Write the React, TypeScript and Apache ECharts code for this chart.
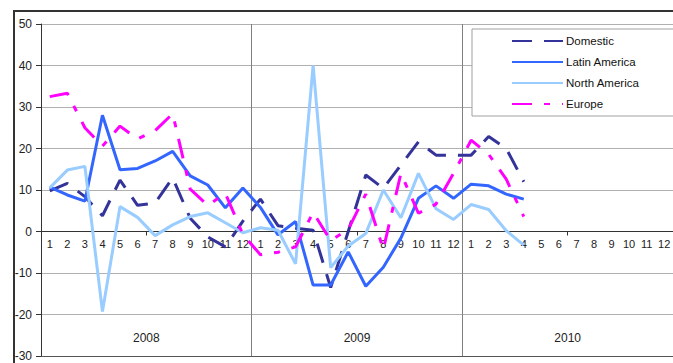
import React, { useEffect, useRef } from "react";
import * as echarts from "echarts";

const months = ["1","2","3","4","5","6","7","8","9","10","11","12"];
const years = ["2008", "2009", "2010"];
const categories: string[] = years.flatMap((y) => months.map((m) => y + "-" + m));

const domestic = [
  9.8, 11.6, 8.4, 3.8, 12.4, 6.3, 6.9, 12.9, 3.2, -1.3, -3.7, 2.5,
  7.8, 1.4, 0.8, 0.3, -13.5, 0, 13.6, 10.4, 16, 21.6, 18.4, 18.4,
  18.4, 22.9, 20, 12, null, null, null, null, null, null, null, null,
];
const latinAmerica = [
  10.7, 8.8, 7.3, 28, 14.9, 15.2, 17, 19.3, 13.4, 11.2, 5.7, 10.5,
  5.8, -0.8, 2.4, -12.9, -12.9, -4.9, -13.2, -8.6, -1.6, 8, 11, 8,
  11.4, 11, 9, 7.8, null, null, null, null, null, null, null, null,
];
const northAmerica = [
  10.5, 14.8, 15.7, -19.3, 6, 3.4, -1, 1.6, 3.6, 4.5, 2.1, -0.3,
  0.9, 0.3, -7.8, 40, -8.7, -3.5, -0.5, 10, 3.3, 14, 5.5, 2.9,
  6.5, 5.3, 0.2, -3.3, null, null, null, null, null, null, null, null,
];
const europe = [
  32.5, 33.3, 25, 20.6, 25.4, 22.3, 24.3, 28.4, 10.2, 6.3, 9.2, -0.7,
  -5.6, -5, -3.7, 4.6, -2.2, 0.5, 9, -4.3, 14, 4.4, 6.6, 14,
  22, 18.6, 12.6, 3.6, null, null, null, null, null, null, null, null,
];

const FONT = "'Liberation Sans Narrow', 'Liberation Sans', Arial, sans-serif";

const Y_MIN = -30;
const Y_MAX = 50;
const PLOT_TOP = 24;
const PLOT_H = 332;

export default function App() {
  const ref = useRef<HTMLDivElement>(null);
  useEffect(() => {
    if (!ref.current) return;
    const chart = echarts.init(ref.current, undefined, { renderer: "svg" });
    const mkSeries = (name: string, data: (number | null)[], color: string, type: any) => ({
      name,
      type: "line",
      data,
      xAxisIndex: 0,
      yAxisIndex: 0,
      symbol: "none",
      showSymbol: false,
      connectNulls: false,
      lineStyle: { color, width: 3, type, cap: "butt" },
      itemStyle: { color },
    });
    const zeroOffset = (Y_MAX / (Y_MAX - Y_MIN)) * PLOT_H;
    chart.setOption({
      animation: false,
      backgroundColor: "#ffffff",
      textStyle: { fontFamily: FONT },
      grid: [
        { left: 41, right: 0, top: PLOT_TOP, height: PLOT_H, containLabel: false, outerBoundsMode: "none" },
        { left: 41, right: 0, top: PLOT_TOP, height: zeroOffset, containLabel: false, outerBoundsMode: "none" },
      ],
      legend: {
        orient: "vertical",
        left: 472,
        top: 29,
        padding: [6, 120, 6, 39],
        itemGap: 9,
        itemWidth: 51,
        itemHeight: 14,
        itemStyle: { opacity: 0 },
        borderColor: "#a0a0a0",
        borderWidth: 1,
        backgroundColor: "#ffffff",
        textStyle: { fontFamily: FONT, fontSize: 11.5, color: "#111", padding: [0, 0, 0, -2] },
        data: ["Domestic", "Latin America", "North America", "Europe"],
      },
      xAxis: [
        {
          gridIndex: 0,
          type: "category",
          data: categories,
          boundaryGap: true,
          axisLine: { show: false },
          axisTick: { show: false },
          axisLabel: { show: false },
          splitLine: { show: false },
        },
        {
          gridIndex: 0,
          type: "category",
          data: years,
          position: "bottom",
          boundaryGap: true,
          axisLine: { show: true, onZero: false, lineStyle: { color: "#555", width: 1 } },
          axisTick: { show: false },
          axisLabel: { inside: true, margin: 12, fontSize: 12, color: "#222", fontFamily: FONT },
          splitLine: { show: true, lineStyle: { color: "#808080", width: 1 } },
        },
        {
          gridIndex: 1,
          type: "category",
          data: categories,
          position: "bottom",
          boundaryGap: true,
          axisLine: { show: true, onZero: false, lineStyle: { color: "#333", width: 1 } },
          axisTick: {
            show: true,
            length: 4,
            interval: (index: number) => index % 12 === 6,
            lineStyle: { color: "#333" },
          },
          axisLabel: {
            interval: 0,
            margin: 7,
            fontSize: 11,
            color: "#222",
            fontFamily: FONT,
            formatter: (v: string) => v.split("-")[1],
          },
          splitLine: { show: false },
        },
      ],
      yAxis: [
        {
          gridIndex: 0,
          type: "value",
          min: Y_MIN,
          max: Y_MAX,
          interval: 10,
          axisLine: { show: true, onZero: false, lineStyle: { color: "#333", width: 1 } },
          axisTick: { show: true, length: 5, lineStyle: { color: "#333" } },
          axisLabel: { margin: 9, fontSize: 12, color: "#222", fontFamily: FONT },
          splitLine: { show: true, lineStyle: { color: "#b0b0b0", width: 1 } },
        },
        {
          gridIndex: 1,
          type: "value",
          min: 0,
          max: Y_MAX,
          show: false,
          axisLine: { show: false },
          axisTick: { show: false },
          axisLabel: { show: false },
          splitLine: { show: false },
        },
      ],
      graphic: [
        {
          type: "rect",
          shape: { x: 14, y: 11, width: 700, height: 400 },
          style: { fill: "none", stroke: "#333", lineWidth: 2 },
          silent: true,
          z: 100,
        },
      ],
      series: [
        mkSeries("Domestic", domestic, "#333399", [20, 12]),
        mkSeries("Latin America", latinAmerica, "#3366ff", "solid"),
        mkSeries("North America", northAmerica, "#99ccff", "solid"),
        mkSeries("Europe", europe, "#ff00ff", [20, 12, 6, 12]),
      ],
    });
    return () => chart.dispose();
  }, []);
  return (
    <div
      ref={ref}
      style={{ position: "fixed", left: 0, top: 0, width: 673, height: 363, background: "#fff" }}
    />
  );
}
